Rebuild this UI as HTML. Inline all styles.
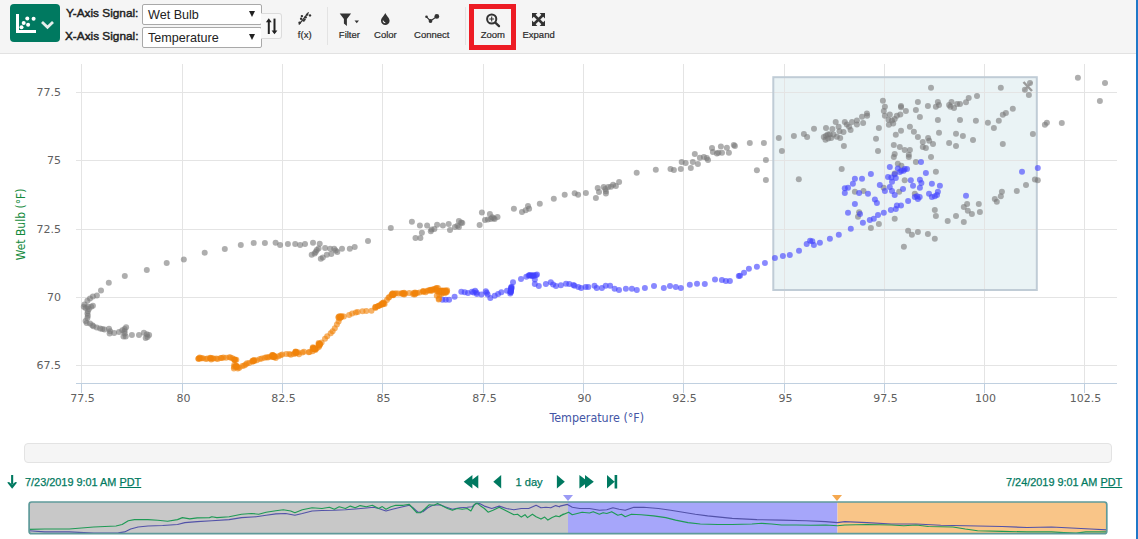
<!DOCTYPE html>
<html lang="en">
<head>
<meta charset="utf-8">
<title>Scatter Plot</title>
<style>
html,body{margin:0;padding:0;}
body{width:1138px;height:539px;position:relative;overflow:hidden;background:#fff;
 font-family:"Liberation Sans",sans-serif;color:#333;}
.abs{position:absolute;}
#toolbar{left:0;top:0;width:1138px;height:53px;background:#f5f5f5;border-bottom:1px solid #e2e2e2;}
#viewbtn{left:10px;top:4px;width:50px;height:38px;background:#007960;border-radius:4px;}
.lbl{font-weight:normal;font-size:11.8px;color:#222;-webkit-text-stroke:0.45px #222;white-space:nowrap;line-height:14px;}
.sel{left:142px;width:118px;height:19px;background:#fff;border:1px solid #a9a9a9;border-radius:2px;
 font-size:12.6px;line-height:19px;color:#222;white-space:nowrap;}
.sel span{position:absolute;left:5px;top:1px;}
.sel i{position:absolute;right:6px;top:6px;width:0;height:0;border-left:3.5px solid transparent;border-right:3.5px solid transparent;border-top:6px solid #222;}
#swap{left:261px;top:13px;width:20px;height:24px;border:1px solid #dcdcdc;border-left:none;border-radius:0 3px 3px 0;background:#f8f8f8;}
.tb{font-size:9.5px;color:#2a2a2a;-webkit-text-stroke:0.2px #2a2a2a;white-space:nowrap;line-height:12px;text-align:center;transform:translateX(-50%);}
.sep{width:1px;top:7px;height:38px;background:#e3e3e3;}
#zoombox{left:469px;top:4px;width:37px;height:36px;border:5px solid #ed1c24;}
.date{font-size:10.9px;color:#007960;-webkit-text-stroke:0.25px #007960;white-space:nowrap;line-height:14px;}
.date u{text-decoration:underline;}
#range{left:24px;top:443px;width:1086px;height:18px;background:#f5f5f5;border:1px solid #e3e3e3;border-radius:4px;}
#edge{left:1135.5px;top:0;width:2.5px;height:539px;background:#1f78c8;}
</style>
</head>
<body>
<div id="toolbar" class="abs"></div>
<div id="viewbtn" class="abs">
<svg width="50" height="38" viewBox="0 0 50 38">
<path d="M7.5 10V27.5H26" fill="none" stroke="#fff" stroke-width="3"/>
<g fill="#fff"><circle cx="17.3" cy="14.5" r="2"/><circle cx="23.6" cy="14.8" r="2"/><circle cx="13.7" cy="19.1" r="2"/><circle cx="18.1" cy="20.8" r="2"/><circle cx="11.5" cy="23.3" r="2"/></g>
<path d="M32 18L37.5 23.2L43 18" fill="none" stroke="#e3eeeb" stroke-width="2.8"/>
</svg>
</div>
<div class="abs lbl" style="left:66px;top:6px;">Y-Axis Signal:</div>
<div class="abs lbl" style="left:65px;top:29px;">X-Axis Signal:</div>
<div class="abs sel" style="top:4px;"><span>Wet Bulb</span><i></i></div>
<div class="abs sel" style="top:27px;"><span>Temperature</span><i></i></div>
<div id="swap" class="abs">
<svg width="19" height="24" viewBox="0 0 19 24">
<path d="M7.8 20V6" fill="none" stroke="#222" stroke-width="2"/><path d="M4.9 8.2L7.8 4.3L10.7 8.2Z" fill="#222"/>
<path d="M13.5 4.6V18.5" fill="none" stroke="#222" stroke-width="2"/><path d="M10.6 16.4L13.5 20.3L16.4 16.4Z" fill="#222"/>
</svg>
</div>
<!-- f(x) -->
<svg class="abs" style="left:297px;top:11px" width="16" height="16" viewBox="0 0 16 16">
<path d="M1.9 13.7L11.6 1.4" stroke="#333" stroke-width="1.2" fill="none"/>
<g fill="#333"><circle cx="4.9" cy="5.1" r="1.2"/><circle cx="4.1" cy="7.7" r="1.2"/><circle cx="2.6" cy="11.8" r="1.3"/><circle cx="6.7" cy="9.6" r="1.2"/><circle cx="8.6" cy="6.2" r="1.2"/><circle cx="10.1" cy="3.6" r="1.2"/><circle cx="13" cy="4.4" r="1.2"/><circle cx="7.8" cy="8.5" r="1"/></g>
</svg>
<div class="abs tb" style="left:304.7px;top:29px;">f(x)</div>
<div class="abs sep" style="left:327px;"></div>
<!-- filter -->
<svg class="abs" style="left:338px;top:12px" width="24" height="16" viewBox="0 0 24 16">
<path d="M1.7 1.6H13.1L8.9 7V13.9L5.9 11.6V7Z" fill="#333"/>
<path d="M16.5 8.6H21L18.75 11.2Z" fill="#333"/>
</svg>
<div class="abs tb" style="left:349.4px;top:29px;">Filter</div>
<!-- color -->
<svg class="abs" style="left:379px;top:12px" width="14" height="16" viewBox="0 0 14 16">
<path d="M6.3 1C7.5 4 10.6 6 10.6 8.7A4.3 4.3 0 0 1 2 8.7C2 6 5.1 4 6.3 1Z" fill="#333"/>
<path d="M4.2 8.6A2.1 2.1 0 0 0 6.3 10.8" stroke="#f5f5f5" stroke-width="1.1" fill="none"/>
</svg>
<div class="abs tb" style="left:385.4px;top:29px;">Color</div>
<!-- connect -->
<svg class="abs" style="left:422px;top:11px" width="20" height="16" viewBox="0 0 20 16">
<path d="M4.5 5.8L8.5 10L14.8 5.5" stroke="#333" stroke-width="1.1" fill="none"/>
<circle cx="4.5" cy="5.8" r="1.3" fill="#333"/><circle cx="8.5" cy="10" r="1.9" fill="#333"/><circle cx="14.8" cy="5.4" r="2.4" fill="#333"/>
</svg>
<div class="abs tb" style="left:431.8px;top:29px;">Connect</div>
<div class="abs sep" style="left:465px;"></div>
<div id="zoombox" class="abs"></div>
<!-- zoom -->
<svg class="abs" style="left:483px;top:11px" width="20" height="18" viewBox="0 0 20 18">
<circle cx="8.7" cy="8" r="4.6" fill="none" stroke="#333" stroke-width="2"/>
<path d="M12.3 11.6L16 15.1" stroke="#333" stroke-width="2.3" stroke-linecap="round"/>
<path d="M6.3 8H11.1M8.7 5.6V10.4" stroke="#333" stroke-width="1.1"/>
</svg>
<div class="abs tb" style="left:492.9px;top:29px;">Zoom</div>
<!-- expand -->
<svg class="abs" style="left:531px;top:12px" width="15" height="15" viewBox="0 0 15 15">
<path d="M3 3L12 12M12 3L3 12" stroke="#333" stroke-width="2.5"/>
<path d="M1 1H6.4L1 6.4ZM14 1H8.6L14 6.4ZM1 14H6.4L1 8.6ZM14 14H8.6L14 8.6Z" fill="#333"/>
</svg>
<div class="abs tb" style="left:538.6px;top:29px;">Expand</div>

<svg id="chart" width="1138" height="385" viewBox="0 54 1138 385" style="position:absolute;left:0;top:54px">
<rect x="773.3" y="77.2" width="263.5" height="212.8" fill="#eaf3f5"/>
<path d="M81.5 64V383.5" stroke="#e4e4e4" stroke-width="1"/>
<path d="M81.5 383.5V393.0" stroke="#c0d0e0" stroke-width="1"/>
<path d="M182.5 64V383.5" stroke="#e4e4e4" stroke-width="1"/>
<path d="M182.5 383.5V393.0" stroke="#c0d0e0" stroke-width="1"/>
<path d="M282.5 64V383.5" stroke="#e4e4e4" stroke-width="1"/>
<path d="M282.5 383.5V393.0" stroke="#c0d0e0" stroke-width="1"/>
<path d="M382.5 64V383.5" stroke="#e4e4e4" stroke-width="1"/>
<path d="M382.5 383.5V393.0" stroke="#c0d0e0" stroke-width="1"/>
<path d="M483.5 64V383.5" stroke="#e4e4e4" stroke-width="1"/>
<path d="M483.5 383.5V393.0" stroke="#c0d0e0" stroke-width="1"/>
<path d="M583.5 64V383.5" stroke="#e4e4e4" stroke-width="1"/>
<path d="M583.5 383.5V393.0" stroke="#c0d0e0" stroke-width="1"/>
<path d="M683.5 64V383.5" stroke="#e4e4e4" stroke-width="1"/>
<path d="M683.5 383.5V393.0" stroke="#c0d0e0" stroke-width="1"/>
<path d="M784.5 64V383.5" stroke="#e4e4e4" stroke-width="1"/>
<path d="M784.5 383.5V393.0" stroke="#c0d0e0" stroke-width="1"/>
<path d="M884.5 64V383.5" stroke="#e4e4e4" stroke-width="1"/>
<path d="M884.5 383.5V393.0" stroke="#c0d0e0" stroke-width="1"/>
<path d="M984.5 64V383.5" stroke="#e4e4e4" stroke-width="1"/>
<path d="M984.5 383.5V393.0" stroke="#c0d0e0" stroke-width="1"/>
<path d="M1084.5 64V383.5" stroke="#e4e4e4" stroke-width="1"/>
<path d="M1084.5 383.5V393.0" stroke="#c0d0e0" stroke-width="1"/>
<path d="M76 92.5H1117" stroke="#e4e4e4" stroke-width="1"/>
<path d="M76 160.5H1117" stroke="#e4e4e4" stroke-width="1"/>
<path d="M76 229.5H1117" stroke="#e4e4e4" stroke-width="1"/>
<path d="M76 297.5H1117" stroke="#e4e4e4" stroke-width="1"/>
<path d="M76 365.5H1117" stroke="#e4e4e4" stroke-width="1"/>
<path d="M76 383.5H1117" stroke="#c0d0e0" stroke-width="1"/>
<rect x="773.3" y="77.2" width="263.5" height="212.8" fill="none" stroke="#c0ccd6" stroke-width="2"/>
<g fill="#787878" fill-opacity="0.6"><circle cx="264.9" cy="242.9" r="3"/><circle cx="253.7" cy="242.9" r="3"/><circle cx="240.8" cy="244.9" r="3"/><circle cx="224.8" cy="248.9" r="3"/><circle cx="204.7" cy="252.7" r="3"/><circle cx="183.8" cy="259.6" r="3"/><circle cx="166.7" cy="263.0" r="3"/><circle cx="146.8" cy="269.9" r="3"/><circle cx="124.8" cy="275.9" r="3"/><circle cx="108.8" cy="282.8" r="3"/><circle cx="101.0" cy="290.6" r="3"/><circle cx="96.9" cy="295.5" r="3"/><circle cx="92.9" cy="296.6" r="3"/><circle cx="90.0" cy="298.6" r="3"/><circle cx="87.4" cy="300.8" r="3"/><circle cx="84.5" cy="304.6" r="3"/><circle cx="83.8" cy="306.8" r="3"/><circle cx="85.6" cy="308.0" r="3"/><circle cx="87.8" cy="306.8" r="3"/><circle cx="91.2" cy="306.8" r="3"/><circle cx="92.9" cy="305.7" r="3"/><circle cx="88.9" cy="309.1" r="3"/><circle cx="87.8" cy="311.3" r="3"/><circle cx="87.4" cy="313.5" r="3"/><circle cx="87.8" cy="315.7" r="3"/><circle cx="87.4" cy="318.0" r="3"/><circle cx="85.6" cy="320.9" r="3"/><circle cx="86.7" cy="323.1" r="3"/><circle cx="90.0" cy="323.5" r="3"/><circle cx="92.3" cy="325.3" r="3"/><circle cx="93.4" cy="326.2" r="3"/><circle cx="96.7" cy="327.6" r="3"/><circle cx="100.1" cy="328.4" r="3"/><circle cx="102.3" cy="329.1" r="3"/><circle cx="104.5" cy="329.6" r="3"/><circle cx="109.0" cy="328.7" r="3"/><circle cx="110.1" cy="331.3" r="3"/><circle cx="109.6" cy="333.6" r="3"/><circle cx="114.1" cy="332.9" r="3"/><circle cx="119.0" cy="332.0" r="3"/><circle cx="122.3" cy="330.2" r="3"/><circle cx="124.6" cy="329.1" r="3"/><circle cx="126.1" cy="327.3" r="3"/><circle cx="124.6" cy="331.3" r="3"/><circle cx="124.6" cy="333.6" r="3"/><circle cx="123.5" cy="336.5" r="3"/><circle cx="125.7" cy="336.5" r="3"/><circle cx="131.9" cy="334.9" r="3"/><circle cx="139.0" cy="334.9" r="3"/><circle cx="143.9" cy="332.7" r="3"/><circle cx="146.8" cy="334.2" r="3"/><circle cx="149.1" cy="335.1" r="3"/><circle cx="147.5" cy="336.9" r="3"/><circle cx="145.7" cy="338.0" r="3"/><circle cx="275.6" cy="242.8" r="3"/><circle cx="280.1" cy="245.0" r="3"/><circle cx="287.9" cy="243.9" r="3"/><circle cx="295.2" cy="243.9" r="3"/><circle cx="300.1" cy="245.0" r="3"/><circle cx="305.0" cy="243.9" r="3"/><circle cx="313.0" cy="242.8" r="3"/><circle cx="319.7" cy="243.7" r="3"/><circle cx="318.6" cy="248.4" r="3"/><circle cx="316.8" cy="250.1" r="3"/><circle cx="315.7" cy="251.9" r="3"/><circle cx="314.6" cy="253.5" r="3"/><circle cx="311.7" cy="254.8" r="3"/><circle cx="325.1" cy="247.9" r="3"/><circle cx="330.2" cy="248.8" r="3"/><circle cx="334.2" cy="248.8" r="3"/><circle cx="335.7" cy="250.6" r="3"/><circle cx="337.3" cy="251.9" r="3"/><circle cx="342.0" cy="248.8" r="3"/><circle cx="349.8" cy="248.8" r="3"/><circle cx="354.7" cy="247.0" r="3"/><circle cx="331.3" cy="253.9" r="3"/><circle cx="326.8" cy="254.8" r="3"/><circle cx="322.8" cy="257.5" r="3"/><circle cx="320.8" cy="258.8" r="3"/><circle cx="368.0" cy="241.0" r="3"/><circle cx="390.8" cy="227.9" r="3"/><circle cx="411.9" cy="221.8" r="3"/><circle cx="419.9" cy="225.6" r="3"/><circle cx="427.1" cy="225.6" r="3"/><circle cx="437.1" cy="224.7" r="3"/><circle cx="442.9" cy="225.6" r="3"/><circle cx="448.7" cy="223.9" r="3"/><circle cx="434.4" cy="229.0" r="3"/><circle cx="431.5" cy="229.6" r="3"/><circle cx="430.8" cy="231.2" r="3"/><circle cx="450.0" cy="230.1" r="3"/><circle cx="421.9" cy="232.8" r="3"/><circle cx="420.4" cy="237.9" r="3"/><circle cx="415.5" cy="237.9" r="3"/><circle cx="454.9" cy="226.9" r="3"/><circle cx="458.9" cy="220.9" r="3"/><circle cx="461.2" cy="222.4" r="3"/><circle cx="462.3" cy="223.1" r="3"/><circle cx="458.9" cy="226.9" r="3"/><circle cx="457.4" cy="225.8" r="3"/><circle cx="479.6" cy="225.1" r="3"/><circle cx="481.9" cy="212.4" r="3"/><circle cx="489.9" cy="214.0" r="3"/><circle cx="485.0" cy="220.0" r="3"/><circle cx="487.9" cy="219.5" r="3"/><circle cx="490.8" cy="219.1" r="3"/><circle cx="493.5" cy="218.2" r="3"/><circle cx="494.6" cy="219.1" r="3"/><circle cx="497.5" cy="216.9" r="3"/><circle cx="492.3" cy="217.3" r="3"/><circle cx="513.9" cy="208.8" r="3"/><circle cx="522.0" cy="212.0" r="3"/><circle cx="525.7" cy="210.2" r="3"/><circle cx="528.0" cy="205.9" r="3"/><circle cx="529.1" cy="208.8" r="3"/><circle cx="539.8" cy="203.7" r="3"/><circle cx="553.8" cy="198.8" r="3"/><circle cx="564.7" cy="194.8" r="3"/><circle cx="574.7" cy="193.3" r="3"/><circle cx="578.1" cy="194.8" r="3"/><circle cx="585.9" cy="193.0" r="3"/><circle cx="595.9" cy="197.9" r="3"/><circle cx="597.7" cy="188.1" r="3"/><circle cx="599.0" cy="191.9" r="3"/><circle cx="603.7" cy="187.0" r="3"/><circle cx="605.3" cy="189.0" r="3"/><circle cx="605.9" cy="191.2" r="3"/><circle cx="605.9" cy="193.5" r="3"/><circle cx="608.2" cy="187.0" r="3"/><circle cx="611.0" cy="186.8" r="3"/><circle cx="613.1" cy="184.8" r="3"/><circle cx="615.9" cy="185.9" r="3"/><circle cx="619.1" cy="181.9" r="3"/><circle cx="636.7" cy="172.8" r="3"/><circle cx="655.8" cy="169.8" r="3"/><circle cx="670.5" cy="168.9" r="3"/><circle cx="673.9" cy="170.0" r="3"/><circle cx="680.8" cy="169.1" r="3"/><circle cx="681.7" cy="162.0" r="3"/><circle cx="685.7" cy="163.1" r="3"/><circle cx="690.8" cy="168.0" r="3"/><circle cx="692.8" cy="162.0" r="3"/><circle cx="694.8" cy="153.9" r="3"/><circle cx="697.9" cy="164.0" r="3"/><circle cx="699.9" cy="157.7" r="3"/><circle cx="703.9" cy="157.1" r="3"/><circle cx="706.8" cy="158.0" r="3"/><circle cx="708.0" cy="160.0" r="3"/><circle cx="712.0" cy="147.9" r="3"/><circle cx="712.9" cy="151.9" r="3"/><circle cx="716.9" cy="153.5" r="3"/><circle cx="718.4" cy="152.8" r="3"/><circle cx="720.9" cy="146.6" r="3"/><circle cx="722.0" cy="152.8" r="3"/><circle cx="726.9" cy="147.7" r="3"/><circle cx="728.9" cy="152.8" r="3"/><circle cx="733.8" cy="145.0" r="3"/><circle cx="734.9" cy="145.9" r="3"/><circle cx="749.8" cy="143.0" r="3"/><circle cx="763.9" cy="143.0" r="3"/><circle cx="765.9" cy="160.0" r="3"/><circle cx="756.9" cy="170.2" r="3"/><circle cx="765.9" cy="180.0" r="3"/><circle cx="778.8" cy="138.1" r="3"/><circle cx="781.9" cy="151.0" r="3"/><circle cx="793.9" cy="135.9" r="3"/><circle cx="798.8" cy="179.3" r="3"/><circle cx="803.9" cy="133.9" r="3"/><circle cx="807.1" cy="137.0" r="3"/><circle cx="814.0" cy="128.8" r="3"/><circle cx="826.0" cy="127.9" r="3"/><circle cx="823.8" cy="137.0" r="3"/><circle cx="826.0" cy="135.7" r="3"/><circle cx="827.8" cy="134.6" r="3"/><circle cx="825.5" cy="139.7" r="3"/><circle cx="828.2" cy="138.4" r="3"/><circle cx="829.7" cy="134.2" r="3"/><circle cx="831.2" cy="138.0" r="3"/><circle cx="832.4" cy="129.0" r="3"/><circle cx="833.5" cy="134.6" r="3"/><circle cx="835.7" cy="121.9" r="3"/><circle cx="836.8" cy="136.8" r="3"/><circle cx="838.6" cy="126.8" r="3"/><circle cx="839.5" cy="131.3" r="3"/><circle cx="840.2" cy="138.0" r="3"/><circle cx="843.5" cy="131.9" r="3"/><circle cx="844.8" cy="121.9" r="3"/><circle cx="846.8" cy="124.6" r="3"/><circle cx="849.1" cy="126.8" r="3"/><circle cx="850.6" cy="129.9" r="3"/><circle cx="852.0" cy="121.9" r="3"/><circle cx="856.9" cy="120.6" r="3"/><circle cx="856.9" cy="124.6" r="3"/><circle cx="862.0" cy="116.8" r="3"/><circle cx="863.1" cy="123.0" r="3"/><circle cx="866.9" cy="113.5" r="3"/><circle cx="867.1" cy="115.7" r="3"/><circle cx="843.9" cy="146.0" r="3"/><circle cx="841.7" cy="168.9" r="3"/><circle cx="882.9" cy="100.8" r="3"/><circle cx="884.9" cy="106.8" r="3"/><circle cx="883.8" cy="111.0" r="3"/><circle cx="884.9" cy="115.7" r="3"/><circle cx="889.8" cy="114.6" r="3"/><circle cx="888.5" cy="119.7" r="3"/><circle cx="888.9" cy="124.8" r="3"/><circle cx="892.0" cy="120.6" r="3"/><circle cx="894.7" cy="119.0" r="3"/><circle cx="893.2" cy="123.5" r="3"/><circle cx="896.9" cy="115.7" r="3"/><circle cx="900.3" cy="114.6" r="3"/><circle cx="901.0" cy="106.1" r="3"/><circle cx="901.0" cy="107.2" r="3"/><circle cx="905.9" cy="111.0" r="3"/><circle cx="878.9" cy="127.9" r="3"/><circle cx="876.0" cy="138.8" r="3"/><circle cx="878.0" cy="150.9" r="3"/><circle cx="895.8" cy="134.8" r="3"/><circle cx="901.0" cy="130.8" r="3"/><circle cx="909.9" cy="126.8" r="3"/><circle cx="913.9" cy="131.7" r="3"/><circle cx="917.9" cy="137.1" r="3"/><circle cx="922.8" cy="142.0" r="3"/><circle cx="922.8" cy="146.9" r="3"/><circle cx="925.9" cy="148.0" r="3"/><circle cx="928.1" cy="138.0" r="3"/><circle cx="929.2" cy="140.8" r="3"/><circle cx="933.0" cy="144.0" r="3"/><circle cx="893.8" cy="144.9" r="3"/><circle cx="899.8" cy="146.9" r="3"/><circle cx="904.7" cy="150.0" r="3"/><circle cx="909.9" cy="150.0" r="3"/><circle cx="908.8" cy="154.7" r="3"/><circle cx="908.8" cy="156.9" r="3"/><circle cx="894.7" cy="154.0" r="3"/><circle cx="893.8" cy="156.9" r="3"/><circle cx="897.8" cy="163.8" r="3"/><circle cx="901.4" cy="165.8" r="3"/><circle cx="915.9" cy="162.0" r="3"/><circle cx="931.0" cy="156.9" r="3"/><circle cx="935.9" cy="171.8" r="3"/><circle cx="894.7" cy="173.6" r="3"/><circle cx="904.7" cy="180.3" r="3"/><circle cx="917.9" cy="101.9" r="3"/><circle cx="915.9" cy="109.9" r="3"/><circle cx="919.9" cy="117.0" r="3"/><circle cx="927.9" cy="106.1" r="3"/><circle cx="931.0" cy="87.8" r="3"/><circle cx="935.9" cy="106.8" r="3"/><circle cx="937.9" cy="101.9" r="3"/><circle cx="939.0" cy="105.0" r="3"/><circle cx="937.9" cy="119.9" r="3"/><circle cx="939.0" cy="132.8" r="3"/><circle cx="949.1" cy="105.0" r="3"/><circle cx="951.5" cy="101.9" r="3"/><circle cx="950.4" cy="106.8" r="3"/><circle cx="954.0" cy="107.9" r="3"/><circle cx="957.1" cy="103.9" r="3"/><circle cx="960.0" cy="103.9" r="3"/><circle cx="960.0" cy="119.9" r="3"/><circle cx="956.0" cy="133.7" r="3"/><circle cx="962.9" cy="135.9" r="3"/><circle cx="949.1" cy="142.9" r="3"/><circle cx="956.0" cy="146.0" r="3"/><circle cx="966.0" cy="102.3" r="3"/><circle cx="968.7" cy="97.9" r="3"/><circle cx="854.9" cy="191.8" r="3"/><circle cx="863.5" cy="190.9" r="3"/><circle cx="883.6" cy="187.8" r="3"/><circle cx="899.2" cy="191.8" r="3"/><circle cx="914.8" cy="193.8" r="3"/><circle cx="934.8" cy="210.1" r="3"/><circle cx="935.9" cy="215.9" r="3"/><circle cx="947.7" cy="221.0" r="3"/><circle cx="956.0" cy="215.9" r="3"/><circle cx="963.8" cy="221.9" r="3"/><circle cx="963.8" cy="207.0" r="3"/><circle cx="967.1" cy="203.9" r="3"/><circle cx="967.8" cy="210.8" r="3"/><circle cx="894.7" cy="218.8" r="3"/><circle cx="878.9" cy="223.9" r="3"/><circle cx="870.9" cy="227.9" r="3"/><circle cx="858.0" cy="216.8" r="3"/><circle cx="859.1" cy="212.3" r="3"/><circle cx="908.1" cy="230.8" r="3"/><circle cx="911.9" cy="234.8" r="3"/><circle cx="917.9" cy="231.9" r="3"/><circle cx="927.9" cy="233.9" r="3"/><circle cx="934.8" cy="238.8" r="3"/><circle cx="903.9" cy="246.8" r="3"/><circle cx="977.0" cy="95.9" r="3"/><circle cx="975.9" cy="120.8" r="3"/><circle cx="973.0" cy="140.0" r="3"/><circle cx="987.9" cy="122.8" r="3"/><circle cx="993.9" cy="127.9" r="3"/><circle cx="998.8" cy="120.8" r="3"/><circle cx="1002.8" cy="114.8" r="3"/><circle cx="1005.9" cy="113.0" r="3"/><circle cx="1012.8" cy="108.8" r="3"/><circle cx="1000.8" cy="87.8" r="3"/><circle cx="1002.8" cy="144.0" r="3"/><circle cx="1024.9" cy="89.8" r="3"/><circle cx="1030.0" cy="82.9" r="3"/><circle cx="1028.9" cy="95.0" r="3"/><circle cx="1032.9" cy="133.9" r="3"/><circle cx="1044.9" cy="124.8" r="3"/><circle cx="1046.9" cy="122.8" r="3"/><circle cx="1061.8" cy="123.0" r="3"/><circle cx="1077.9" cy="77.8" r="3"/><circle cx="1105.0" cy="82.9" r="3"/><circle cx="1099.9" cy="101.0" r="3"/><circle cx="1034.9" cy="179.6" r="3"/><circle cx="1037.8" cy="180.3" r="3"/><circle cx="978.8" cy="203.9" r="3"/><circle cx="979.9" cy="211.9" r="3"/><circle cx="971.9" cy="213.9" r="3"/><circle cx="994.8" cy="199.0" r="3"/><circle cx="996.8" cy="201.8" r="3"/><circle cx="1000.8" cy="196.3" r="3"/><circle cx="1001.9" cy="191.8" r="3"/><circle cx="1016.8" cy="190.9" r="3"/><circle cx="1026.0" cy="184.9" r="3"/></g>
<g fill="#4040ff" fill-opacity="0.62"><circle cx="889.8" cy="166.9" r="3"/><circle cx="897.8" cy="168.5" r="3"/><circle cx="901.4" cy="170.7" r="3"/><circle cx="904.7" cy="169.1" r="3"/><circle cx="907.0" cy="169.1" r="3"/><circle cx="903.6" cy="170.7" r="3"/><circle cx="899.8" cy="172.0" r="3"/><circle cx="894.7" cy="174.3" r="3"/><circle cx="870.9" cy="174.0" r="3"/><circle cx="854.9" cy="178.7" r="3"/><circle cx="862.0" cy="178.7" r="3"/><circle cx="888.0" cy="176.9" r="3"/><circle cx="891.4" cy="177.6" r="3"/><circle cx="895.8" cy="178.0" r="3"/><circle cx="921.0" cy="162.0" r="3"/><circle cx="925.9" cy="172.9" r="3"/><circle cx="919.9" cy="179.8" r="3"/><circle cx="910.8" cy="180.3" r="3"/><circle cx="844.8" cy="188.3" r="3"/><circle cx="848.0" cy="187.8" r="3"/><circle cx="844.8" cy="192.9" r="3"/><circle cx="852.9" cy="183.8" r="3"/><circle cx="859.1" cy="192.9" r="3"/><circle cx="868.0" cy="193.8" r="3"/><circle cx="874.9" cy="199.6" r="3"/><circle cx="876.9" cy="203.0" r="3"/><circle cx="854.9" cy="203.9" r="3"/><circle cx="848.0" cy="212.8" r="3"/><circle cx="860.0" cy="213.9" r="3"/><circle cx="862.9" cy="222.8" r="3"/><circle cx="850.8" cy="228.8" r="3"/><circle cx="869.8" cy="219.9" r="3"/><circle cx="873.8" cy="218.8" r="3"/><circle cx="878.0" cy="215.0" r="3"/><circle cx="883.8" cy="212.8" r="3"/><circle cx="890.9" cy="209.9" r="3"/><circle cx="895.8" cy="209.0" r="3"/><circle cx="896.9" cy="205.6" r="3"/><circle cx="901.0" cy="205.6" r="3"/><circle cx="908.1" cy="201.0" r="3"/><circle cx="914.8" cy="196.9" r="3"/><circle cx="917.9" cy="199.0" r="3"/><circle cx="919.7" cy="196.9" r="3"/><circle cx="917.0" cy="196.3" r="3"/><circle cx="879.8" cy="184.9" r="3"/><circle cx="884.9" cy="190.9" r="3"/><circle cx="889.8" cy="186.9" r="3"/><circle cx="892.0" cy="190.9" r="3"/><circle cx="894.7" cy="194.9" r="3"/><circle cx="892.0" cy="181.8" r="3"/><circle cx="903.0" cy="188.9" r="3"/><circle cx="913.0" cy="185.8" r="3"/><circle cx="919.9" cy="187.8" r="3"/><circle cx="921.4" cy="182.9" r="3"/><circle cx="931.9" cy="183.8" r="3"/><circle cx="939.9" cy="185.8" r="3"/><circle cx="937.9" cy="191.8" r="3"/><circle cx="937.0" cy="194.9" r="3"/><circle cx="929.0" cy="193.8" r="3"/><circle cx="931.9" cy="196.9" r="3"/><circle cx="934.8" cy="196.3" r="3"/><circle cx="966.0" cy="195.8" r="3"/><circle cx="774.9" cy="258.0" r="3"/><circle cx="782.9" cy="256.0" r="3"/><circle cx="789.8" cy="254.9" r="3"/><circle cx="799.0" cy="250.8" r="3"/><circle cx="806.7" cy="243.9" r="3"/><circle cx="810.1" cy="240.8" r="3"/><circle cx="812.3" cy="241.3" r="3"/><circle cx="813.9" cy="245.1" r="3"/><circle cx="819.9" cy="242.8" r="3"/><circle cx="829.9" cy="238.8" r="3"/><circle cx="838.8" cy="234.8" r="3"/><circle cx="1022.0" cy="171.8" r="3"/><circle cx="1037.8" cy="168.0" r="3"/><circle cx="442.4" cy="299.7" r="3"/><circle cx="445.7" cy="299.7" r="3"/><circle cx="449.1" cy="299.7" r="3"/><circle cx="454.6" cy="296.8" r="3"/><circle cx="461.3" cy="291.7" r="3"/><circle cx="464.7" cy="292.3" r="3"/><circle cx="468.0" cy="293.0" r="3"/><circle cx="472.0" cy="291.7" r="3"/><circle cx="473.6" cy="292.6" r="3"/><circle cx="475.1" cy="290.8" r="3"/><circle cx="476.5" cy="292.6" r="3"/><circle cx="476.9" cy="294.1" r="3"/><circle cx="481.4" cy="294.6" r="3"/><circle cx="485.8" cy="291.2" r="3"/><circle cx="486.7" cy="292.8" r="3"/><circle cx="487.6" cy="294.6" r="3"/><circle cx="490.3" cy="297.9" r="3"/><circle cx="494.7" cy="295.7" r="3"/><circle cx="498.1" cy="294.1" r="3"/><circle cx="501.4" cy="292.3" r="3"/><circle cx="507.0" cy="290.8" r="3"/><circle cx="510.3" cy="293.5" r="3"/><circle cx="510.8" cy="291.9" r="3"/><circle cx="511.0" cy="290.1" r="3"/><circle cx="511.2" cy="288.6" r="3"/><circle cx="511.6" cy="286.8" r="3"/><circle cx="513.0" cy="282.3" r="3"/><circle cx="521.0" cy="279.0" r="3"/><circle cx="526.3" cy="276.7" r="3"/><circle cx="528.6" cy="275.6" r="3"/><circle cx="529.9" cy="275.2" r="3"/><circle cx="531.9" cy="276.1" r="3"/><circle cx="533.7" cy="276.1" r="3"/><circle cx="535.9" cy="275.2" r="3"/><circle cx="537.0" cy="274.5" r="3"/><circle cx="534.8" cy="279.6" r="3"/><circle cx="534.8" cy="284.1" r="3"/><circle cx="538.8" cy="286.1" r="3"/><circle cx="545.9" cy="283.9" r="3"/><circle cx="550.8" cy="282.3" r="3"/><circle cx="553.1" cy="284.5" r="3"/><circle cx="556.0" cy="286.1" r="3"/><circle cx="560.9" cy="285.2" r="3"/><circle cx="566.0" cy="283.7" r="3"/><circle cx="569.3" cy="284.1" r="3"/><circle cx="573.4" cy="285.0" r="3"/><circle cx="574.5" cy="285.7" r="3"/><circle cx="578.3" cy="287.0" r="3"/><circle cx="581.2" cy="287.9" r="3"/><circle cx="585.6" cy="287.0" r="3"/><circle cx="588.3" cy="287.0" r="3"/><circle cx="594.5" cy="285.7" r="3"/><circle cx="596.7" cy="287.9" r="3"/><circle cx="601.9" cy="287.9" r="3"/><circle cx="605.7" cy="285.7" r="3"/><circle cx="610.1" cy="285.7" r="3"/><circle cx="614.6" cy="288.8" r="3"/><circle cx="619.0" cy="289.9" r="3"/><circle cx="625.9" cy="288.8" r="3"/><circle cx="631.9" cy="288.8" r="3"/><circle cx="636.8" cy="289.9" r="3"/><circle cx="644.9" cy="287.9" r="3"/><circle cx="654.0" cy="285.9" r="3"/><circle cx="663.8" cy="287.9" r="3"/><circle cx="670.0" cy="285.9" r="3"/><circle cx="675.8" cy="287.0" r="3"/><circle cx="680.9" cy="287.9" r="3"/><circle cx="689.8" cy="284.8" r="3"/><circle cx="697.0" cy="283.7" r="3"/><circle cx="704.8" cy="283.9" r="3"/><circle cx="715.0" cy="279.4" r="3"/><circle cx="721.9" cy="279.9" r="3"/><circle cx="725.9" cy="281.0" r="3"/><circle cx="729.9" cy="281.0" r="3"/><circle cx="738.8" cy="275.9" r="3"/><circle cx="744.0" cy="272.8" r="3"/><circle cx="748.9" cy="268.8" r="3"/><circle cx="756.9" cy="266.7" r="3"/><circle cx="740" cy="275.7" r="3"/><circle cx="764.9" cy="262.9" r="3"/><circle cx="510.6" cy="292.2" r="3"/><circle cx="510.9" cy="290.9" r="3"/><circle cx="511.2" cy="289.2" r="3"/><circle cx="511.4" cy="288.0" r="3"/><circle cx="510.4" cy="291.5" r="3"/><circle cx="511.0" cy="287.4" r="3"/><circle cx="529.6" cy="275.2" r="3"/><circle cx="531.5" cy="275.6" r="3"/><circle cx="533.4" cy="275.0" r="3"/></g>
<g fill="#f0820a" fill-opacity="0.62"><circle cx="199.2" cy="358.2" r="3"/><circle cx="201.6" cy="358.3" r="3"/><circle cx="202.9" cy="358.3" r="3"/><circle cx="205.8" cy="359.0" r="3"/><circle cx="207.2" cy="358.5" r="3"/><circle cx="210.1" cy="358.5" r="3"/><circle cx="212.5" cy="358.4" r="3"/><circle cx="213.6" cy="358.5" r="3"/><circle cx="216.4" cy="358.6" r="3"/><circle cx="217.7" cy="358.9" r="3"/><circle cx="220.6" cy="357.9" r="3"/><circle cx="221.7" cy="357.9" r="3"/><circle cx="223.3" cy="357.4" r="3"/><circle cx="226.0" cy="357.7" r="3"/><circle cx="229.3" cy="357.3" r="3"/><circle cx="230.5" cy="357.5" r="3"/><circle cx="232.4" cy="358.3" r="3"/><circle cx="235.2" cy="360.1" r="3"/><circle cx="234.3" cy="364.7" r="3"/><circle cx="234.0" cy="366.8" r="3"/><circle cx="233.9" cy="368.6" r="3"/><circle cx="237.8" cy="368.5" r="3"/><circle cx="239.4" cy="367.8" r="3"/><circle cx="242.4" cy="366.0" r="3"/><circle cx="244.2" cy="365.4" r="3"/><circle cx="245.8" cy="364.6" r="3"/><circle cx="247.0" cy="363.3" r="3"/><circle cx="249.2" cy="362.9" r="3"/><circle cx="252.7" cy="361.5" r="3"/><circle cx="254.3" cy="360.9" r="3"/><circle cx="256.8" cy="360.2" r="3"/><circle cx="259.9" cy="359.0" r="3"/><circle cx="261.8" cy="358.4" r="3"/><circle cx="264.7" cy="357.8" r="3"/><circle cx="266.5" cy="357.2" r="3"/><circle cx="267.9" cy="357.5" r="3"/><circle cx="269.7" cy="356.8" r="3"/><circle cx="272.3" cy="355.8" r="3"/><circle cx="273.9" cy="356.7" r="3"/><circle cx="275.7" cy="357.9" r="3"/><circle cx="278.5" cy="356.2" r="3"/><circle cx="280.6" cy="355.3" r="3"/><circle cx="282.2" cy="354.6" r="3"/><circle cx="286.3" cy="354.1" r="3"/><circle cx="289.4" cy="353.9" r="3"/><circle cx="290.8" cy="354.8" r="3"/><circle cx="293.7" cy="353.9" r="3"/><circle cx="296.7" cy="352.5" r="3"/><circle cx="299.0" cy="354.2" r="3"/><circle cx="302.4" cy="352.5" r="3"/><circle cx="304.0" cy="351.8" r="3"/><circle cx="308.6" cy="352.2" r="3"/><circle cx="309.6" cy="351.9" r="3"/><circle cx="312.6" cy="351.2" r="3"/><circle cx="315.4" cy="349.9" r="3"/><circle cx="316.7" cy="348.6" r="3"/><circle cx="318.8" cy="347.0" r="3"/><circle cx="319.4" cy="345.8" r="3"/><circle cx="321.6" cy="342.5" r="3"/><circle cx="325.0" cy="338.8" r="3"/><circle cx="327.2" cy="336.2" r="3"/><circle cx="330.7" cy="333.2" r="3"/><circle cx="332.6" cy="331.2" r="3"/><circle cx="334.8" cy="328.2" r="3"/><circle cx="336.9" cy="324.6" r="3"/><circle cx="338.6" cy="321.6" r="3"/><circle cx="339.7" cy="318.6" r="3"/><circle cx="343.9" cy="316.6" r="3"/><circle cx="349.1" cy="314.9" r="3"/><circle cx="352.2" cy="313.6" r="3"/><circle cx="355.8" cy="312.5" r="3"/><circle cx="357.7" cy="311.9" r="3"/><circle cx="362.5" cy="311.3" r="3"/><circle cx="366.3" cy="310.9" r="3"/><circle cx="371.5" cy="310.8" r="3"/><circle cx="375.4" cy="308.1" r="3"/><circle cx="377.8" cy="306.3" r="3"/><circle cx="379.7" cy="305.2" r="3"/><circle cx="375.6" cy="307.0" r="3"/><circle cx="375.3" cy="307.0" r="3"/><circle cx="378.3" cy="305.9" r="3"/><circle cx="380.3" cy="305.2" r="3"/><circle cx="382.1" cy="304.1" r="3"/><circle cx="383.7" cy="303.5" r="3"/><circle cx="386.9" cy="299.9" r="3"/><circle cx="388.5" cy="297.7" r="3"/><circle cx="389.4" cy="296.9" r="3"/><circle cx="391.5" cy="294.8" r="3"/><circle cx="394.6" cy="293.8" r="3"/><circle cx="396.0" cy="293.3" r="3"/><circle cx="398.5" cy="293.6" r="3"/><circle cx="401.8" cy="293.8" r="3"/><circle cx="405.2" cy="293.6" r="3"/><circle cx="409.2" cy="293.1" r="3"/><circle cx="413.2" cy="294.3" r="3"/><circle cx="414.7" cy="294.4" r="3"/><circle cx="417.1" cy="293.1" r="3"/><circle cx="419.6" cy="292.6" r="3"/><circle cx="422.8" cy="291.5" r="3"/><circle cx="427.1" cy="290.7" r="3"/><circle cx="428.5" cy="290.4" r="3"/><circle cx="430.6" cy="289.8" r="3"/><circle cx="432.3" cy="289.7" r="3"/><circle cx="433.7" cy="288.9" r="3"/><circle cx="436.6" cy="288.0" r="3"/><circle cx="436.5" cy="290.9" r="3"/><circle cx="438.3" cy="291.8" r="3"/><circle cx="439.0" cy="291.3" r="3"/><circle cx="441.4" cy="291.8" r="3"/><circle cx="443.7" cy="290.4" r="3"/><circle cx="446.0" cy="291.4" r="3"/><circle cx="445.2" cy="293.0" r="3"/><circle cx="441.5" cy="294.1" r="3"/><circle cx="439.3" cy="294.9" r="3"/><circle cx="436.8" cy="295.7" r="3"/><circle cx="439.0" cy="298.7" r="3"/><circle cx="438.7" cy="299.4" r="3"/><circle cx="200.2" cy="358.5" r="3"/><circle cx="198.5" cy="358.7" r="3"/><circle cx="198.4" cy="358.7" r="3"/><circle cx="199.7" cy="357.4" r="3"/><circle cx="211.1" cy="359.6" r="3"/><circle cx="210.2" cy="357.7" r="3"/><circle cx="211.0" cy="358.0" r="3"/><circle cx="234.3" cy="359.4" r="3"/><circle cx="234.1" cy="359.5" r="3"/><circle cx="234.9" cy="359.7" r="3"/><circle cx="236.3" cy="359.7" r="3"/><circle cx="236.7" cy="366.2" r="3"/><circle cx="236.2" cy="365.8" r="3"/><circle cx="235.9" cy="365.8" r="3"/><circle cx="237.4" cy="367.1" r="3"/><circle cx="235.7" cy="366.9" r="3"/><circle cx="254.1" cy="359.9" r="3"/><circle cx="253.7" cy="360.6" r="3"/><circle cx="252.7" cy="361.6" r="3"/><circle cx="252.4" cy="360.8" r="3"/><circle cx="274.2" cy="357.1" r="3"/><circle cx="273.1" cy="356.7" r="3"/><circle cx="274.3" cy="356.2" r="3"/><circle cx="273.3" cy="355.5" r="3"/><circle cx="272.2" cy="355.0" r="3"/><circle cx="272.2" cy="356.5" r="3"/><circle cx="272.8" cy="355.1" r="3"/><circle cx="272.3" cy="356.7" r="3"/><circle cx="274.8" cy="356.3" r="3"/><circle cx="295.7" cy="351.6" r="3"/><circle cx="295.7" cy="352.1" r="3"/><circle cx="295.3" cy="352.1" r="3"/><circle cx="295.6" cy="353.3" r="3"/><circle cx="297.9" cy="352.3" r="3"/><circle cx="295.6" cy="353.3" r="3"/><circle cx="314.9" cy="348.8" r="3"/><circle cx="313.9" cy="348.8" r="3"/><circle cx="315.4" cy="349.1" r="3"/><circle cx="314.5" cy="349.1" r="3"/><circle cx="313.9" cy="348.5" r="3"/><circle cx="314.2" cy="348.9" r="3"/><circle cx="314.0" cy="348.0" r="3"/><circle cx="318.6" cy="343.0" r="3"/><circle cx="319.5" cy="343.7" r="3"/><circle cx="320.0" cy="344.0" r="3"/><circle cx="319.9" cy="344.5" r="3"/><circle cx="339.5" cy="316.3" r="3"/><circle cx="341.5" cy="315.9" r="3"/><circle cx="340.6" cy="317.0" r="3"/><circle cx="338.4" cy="317.5" r="3"/><circle cx="341.2" cy="317.0" r="3"/><circle cx="340.6" cy="317.4" r="3"/><circle cx="338.7" cy="316.8" r="3"/><circle cx="318.6" cy="344.4" r="3"/><circle cx="319.6" cy="344.4" r="3"/><circle cx="318.9" cy="344.5" r="3"/><circle cx="314.5" cy="348.8" r="3"/><circle cx="313.0" cy="347.2" r="3"/><circle cx="312.7" cy="348.0" r="3"/><circle cx="312.6" cy="349.1" r="3"/><circle cx="392.5" cy="294.9" r="3"/><circle cx="392.7" cy="295.0" r="3"/><circle cx="392.3" cy="293.4" r="3"/><circle cx="393.3" cy="295.2" r="3"/><circle cx="392.3" cy="294.7" r="3"/><circle cx="392.8" cy="293.6" r="3"/><circle cx="393.1" cy="294.0" r="3"/><circle cx="402.0" cy="292.9" r="3"/><circle cx="404.1" cy="292.8" r="3"/><circle cx="404.2" cy="294.6" r="3"/><circle cx="403.4" cy="293.2" r="3"/><circle cx="403.3" cy="293.9" r="3"/><circle cx="415.4" cy="293.8" r="3"/><circle cx="415.0" cy="292.5" r="3"/><circle cx="413.4" cy="292.9" r="3"/><circle cx="415.3" cy="293.0" r="3"/><circle cx="441.5" cy="290.5" r="3"/><circle cx="439.9" cy="291.1" r="3"/><circle cx="441.9" cy="292.2" r="3"/><circle cx="441.9" cy="291.2" r="3"/><circle cx="441.4" cy="291.6" r="3"/><circle cx="441.2" cy="290.8" r="3"/><circle cx="442.6" cy="291.0" r="3"/><circle cx="442.8" cy="292.7" r="3"/><circle cx="439.8" cy="291.6" r="3"/><circle cx="446.7" cy="292.3" r="3"/><circle cx="445.5" cy="290.6" r="3"/><circle cx="444.8" cy="292.3" r="3"/><circle cx="444.8" cy="291.4" r="3"/><circle cx="444.6" cy="291.3" r="3"/><circle cx="447.1" cy="290.3" r="3"/><circle cx="446.7" cy="291.2" r="3"/><circle cx="384.6" cy="304.0" r="3"/><circle cx="382.5" cy="304.5" r="3"/><circle cx="383.4" cy="302.4" r="3"/><circle cx="381.8" cy="303.5" r="3"/><circle cx="383.2" cy="303.0" r="3"/><circle cx="435.7" cy="288.6" r="3"/><circle cx="436.2" cy="289.8" r="3"/><circle cx="435.2" cy="289.6" r="3"/><circle cx="437.9" cy="288.1" r="3"/><circle cx="431.4" cy="291.0" r="3"/><circle cx="431.3" cy="290.0" r="3"/><circle cx="429.6" cy="290.2" r="3"/><circle cx="425.6" cy="292.2" r="3"/><circle cx="423.6" cy="291.8" r="3"/><circle cx="423.3" cy="290.9" r="3"/></g>
<path d="M1023.5 82L1032 91M1032 82L1023.5 91" stroke="#9b9b9b" stroke-width="2.5" fill="none"/>
<g font-family="'DejaVu Sans','Liberation Sans',sans-serif" font-size="11" fill="#606060">
<text x="82.4" y="402" text-anchor="middle">77.5</text>
<text x="183.4" y="402" text-anchor="middle">80</text>
<text x="283.4" y="402" text-anchor="middle">82.5</text>
<text x="383.4" y="402" text-anchor="middle">85</text>
<text x="484.4" y="402" text-anchor="middle">87.5</text>
<text x="584.4" y="402" text-anchor="middle">90</text>
<text x="684.4" y="402" text-anchor="middle">92.5</text>
<text x="785.4" y="402" text-anchor="middle">95</text>
<text x="885.4" y="402" text-anchor="middle">97.5</text>
<text x="985.4" y="402" text-anchor="middle">100</text>
<text x="1085.4" y="402" text-anchor="middle">102.5</text>
<text x="61" y="96.1" text-anchor="end">77.5</text>
<text x="61" y="164.1" text-anchor="end">75</text>
<text x="61" y="233.1" text-anchor="end">72.5</text>
<text x="61" y="301.1" text-anchor="end">70</text>
<text x="61" y="369.1" text-anchor="end">67.5</text>
</g>
<text x="596.8" y="421.8" text-anchor="middle" font-family="'DejaVu Sans Condensed','DejaVu Sans','Liberation Sans',sans-serif" font-size="12.4" fill="#4355a5">Temperature (°F)</text>
<text transform="translate(25.3,224.4) rotate(-90)" text-anchor="middle" font-family="'DejaVu Sans Condensed','DejaVu Sans','Liberation Sans',sans-serif" font-size="12" fill="#138a3c">Wet Bulb (°F)</text>
</svg>

<div id="range" class="abs"></div>
<!-- left date -->
<svg class="abs" style="left:6px;top:475px" width="13" height="14" viewBox="0 0 13 14">
<path d="M6.15 0V9" fill="none" stroke="#007960" stroke-width="2.1"/><path d="M1.2 7.4L3 7.1L6.15 9.6L9.3 7.1L11.1 7.4L6.15 13.8Z" fill="#007960"/>
</svg>
<div class="abs date" style="left:25px;top:475px;">7/23/2019 9:01 AM <u>PDT</u></div>
<div class="abs date" style="left:1006px;top:475px;">7/24/2019 9:01 AM <u>PDT</u></div>
<!-- nav -->
<svg class="abs" style="left:460px;top:473px" width="162" height="18" viewBox="460 473 162 18">
<g fill="#007960">
<path d="M463.7 481.7L472.4 475V488.5ZM469.6 481.7L478.3 475V488.5Z"/>
<path d="M493.3 481.7L501.2 475V488.5Z"/>
<path d="M556.9 475L564.8 481.7L556.9 488.5Z"/>
<path d="M579.4 475L588.2 481.7L579.4 488.5ZM585 475L593.8 481.7L585 488.5Z"/>
<path d="M607 475L614.6 481.7L607 488.5ZM614.6 475H617.2V488.5H614.6Z"/>
</g>
</svg>
<div class="abs date" style="left:515.5px;top:475px;font-size:11.1px;">1 day</div>

<svg id="mini" width="1138" height="48" viewBox="0 491 1138 48" style="position:absolute;left:0;top:491px">
<defs><clipPath id="mc"><rect x="29.1" y="502" width="1077.7" height="31.7" rx="2.5"/></clipPath></defs>
<g clip-path="url(#mc)">
<rect x="28" y="501" width="540" height="34" fill="#c8c8c8"/>
<rect x="568" y="501" width="269.5" height="34" fill="#a6a6fa"/>
<rect x="837.5" y="501" width="271" height="34" fill="#f9c588"/>
<polyline points="28.6,530.7 44.6,531.9 69.2,531.9 93.8,533.1 118.4,532.9 124.6,531.9 130.7,529.0 138.1,527.0 148.0,526.0 162.7,525.5 177.5,524.5 184.9,522.6 197.2,521.6 211.9,520.8 229.2,519.6 241.5,517.6 256.2,516.7 266.1,515.2 275.9,513.9 285.7,513.5 294.9,515.2 302.3,513.5 312.1,511.0 322.0,510.5 334.3,510.3 345.4,509.8 355.2,509.0 366.3,508.0 373.7,507.3 378.6,508.5 386.0,511.0 393.3,509.0 400.7,507.3 409.3,505.3 413.0,507.8 418.0,512.2 422.9,511.7 427.8,507.8 432.7,505.3 440.1,504.8 445.0,506.8 452.4,509.3 459.8,507.8 467.2,507.3 472.1,506.8 475.8,503.6 479.5,503.6 484.4,506.1 491.8,508.5 499.2,506.1 506.5,508.5 513.9,509.8 521.3,508.5 528.7,508.5 536.1,505.3 541.0,507.8 545.9,507.3 550.8,507.8 555.7,505.6 559.4,506.8 560.0,506.1 567.4,504.4 572.3,507.3 579.7,508.5 589.5,508.5 599.4,510.3 606.8,509.8 612.9,507.8 619.1,509.3 625.2,510.3 633.8,507.3 643.7,507.3 658.4,508.5 670.7,510.3 683.0,512.2 695.3,514.2 707.6,515.9 719.9,517.1 732.2,518.4 756.9,519.6 781.5,520.1 806.1,520.8 825.7,521.6 837.4,522.6 844.8,521.6 866.9,522.6 891.5,524.0 916.1,524.0 940.7,525.3 977.6,526.0 1002.2,526.5 1026.9,527.5 1051.5,527.0 1076.1,528.2 1090.8,529.0 1106.8,529.9" fill="none" stroke="#5252a8" stroke-width="1.15" stroke-linejoin="round"/>
<polyline points="28.6,529.4 44.6,529.0 69.2,529.0 93.8,527.0 116.0,526.0 122.1,524.5 128.3,520.8 134.4,519.6 148.0,519.6 157.8,520.3 167.6,521.3 177.5,519.6 182.4,517.6 189.8,518.9 197.2,517.9 209.5,517.6 211.9,516.7 216.9,517.6 229.2,516.7 241.5,514.2 251.3,513.5 258.7,514.2 266.1,512.2 275.9,510.7 283.3,509.8 290.7,511.0 294.9,512.7 302.3,509.8 312.1,507.8 322.0,508.5 329.4,507.3 334.3,509.3 339.2,506.8 345.4,508.5 350.3,506.1 355.2,507.8 360.1,505.6 366.3,506.8 372.4,505.3 378.6,508.5 382.3,506.6 386.0,509.3 390.9,506.8 395.8,505.3 403.2,505.3 409.3,504.4 413.0,508.5 416.7,512.7 420.4,512.7 425.3,508.5 429.0,504.8 433.9,505.3 437.6,503.4 442.6,506.1 447.5,508.5 452.4,510.3 457.3,508.5 462.2,509.3 467.2,508.5 470.9,511.0 474.5,504.4 477.0,502.9 480.7,506.1 484.4,508.5 488.1,512.2 493.0,510.3 499.2,507.3 504.1,509.8 509.0,512.2 513.9,514.7 517.6,514.2 521.3,517.1 525.0,514.7 527.5,517.6 532.4,514.2 536.1,516.7 541.0,519.1 544.7,517.1 547.9,520.1 552.1,517.6 555.7,515.9 559.4,516.7 563.1,514.2 560.0,515.9 568.6,512.2 572.3,514.7 582.1,512.2 589.5,513.0 593.2,511.7 599.4,514.2 603.1,512.7 606.8,513.5 611.7,511.7 617.8,515.2 621.5,514.2 625.2,516.7 631.4,514.2 641.2,514.7 653.5,515.9 665.8,517.6 675.6,520.1 688.0,522.6 700.3,524.0 717.5,524.5 732.2,524.5 751.9,524.0 761.8,523.3 771.6,524.0 781.5,525.0 796.2,525.0 811.0,525.3 825.7,525.0 837.4,525.8 844.8,525.0 866.9,524.5 891.5,525.0 903.8,525.8 916.1,525.0 928.4,526.5 953.0,527.0 965.3,529.0 977.6,530.7 1002.2,531.4 1026.9,531.9 1039.2,531.9 1051.5,531.9 1063.8,532.6 1076.1,533.1 1085.9,531.9 1106.8,531.9" fill="none" stroke="#1f9a55" stroke-width="1.15" stroke-linejoin="round"/>
</g>
<rect x="29.1" y="502" width="1077.7" height="31.7" rx="2.5" fill="none" stroke="#5f9a9a" stroke-width="1.7"/>
<path d="M563 495H573L568 501Z" fill="#9b9bf5"/>
<path d="M832 495H842L837 501Z" fill="#f5a84f"/>
</svg>
<div id="edge" class="abs"></div>
</body>
</html>
